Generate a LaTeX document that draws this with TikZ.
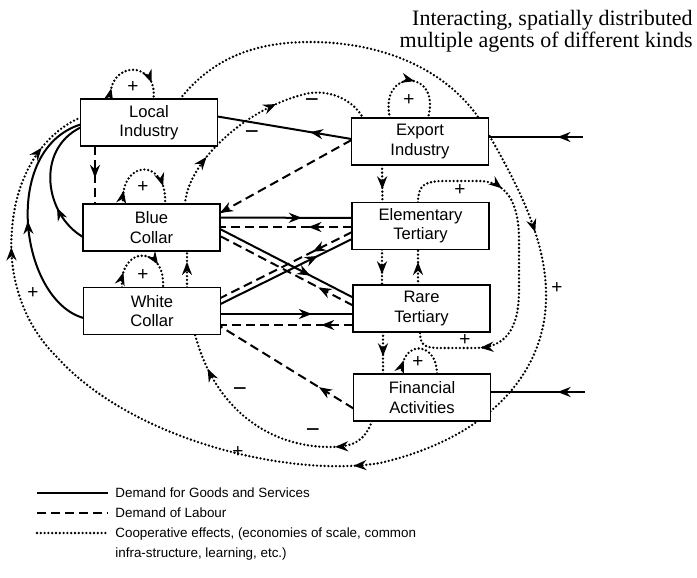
\documentclass[tikz,border=0pt]{standalone}
\usepackage{fontspec}
\setmainfont{Liberation Serif}
\setsansfont{Liberation Sans}
\usetikzlibrary{arrows.meta,calc,decorations.markings,backgrounds}

\tikzset{
    agent/.style={draw, line width=0.9pt, fill=white, minimum width=68.5pt, minimum height=23.5pt,
        inner sep=0pt, outer sep=0pt, align=center, font=\sffamily\fontsize{8.3}{9.6}\selectfont},
    goods/.style={line width=1pt},
    labour/.style={line width=1pt, dash pattern=on 4.5pt off 2.5pt},
    coop/.style={line width=1.3pt, line cap=round, dash pattern=on 0pt off 1.9pt},
    tipat/.style={postaction={solid, decorate, decoration={markings,
        mark=at position #1 with {\arrow{Stealth[length=6.5pt,width=5pt]}}}}},
    sign/.style={inner sep=0pt, font=\sffamily\fontsize{9.5}{9.5}\selectfont},
    minus/.style={inner sep=0pt, font=\sffamily\fontsize{12}{12}\selectfont},
    legend/.style={anchor=base west, inner sep=0pt, align=left, font=\sffamily\fontsize{6.7}{10}\selectfont}
}

\begin{document}
\begin{tikzpicture}[x=0.5pt,y=-0.5pt]
            \useasboundingbox (0,0) rectangle (697,578);

            \node[agent] (li) at (149,122.5) {Local\\Industry};
            \node[agent] (ei) at (420,141.5) {Export\\Industry};
            \node[agent] (bc) at (151.5,227.5) {Blue\\Collar};
            \node[agent] (wc) at (152,311) {White\\Collar};
            \node[agent] (et) at (420.5,226) {Elementary\\Tertiary};
            \node[agent] (rt) at (421.5,308.5) {Rare\\Tertiary};
            \node[agent] (fa) at (422,397.5) {Financial\\Activities};

            \node[anchor=base east, align=right, inner sep=0pt, font=\fontsize{11}{11}\selectfont] (title) at (693,47)
                {Interacting, spatially distributed\\multiple agents of different kinds};

            \coordinate (ein) at (583,137);
            \coordinate (fin) at (585,392);

            \begin{scope}[on background layer]
            % demand for goods and services
            \path[draw,goods,tipat=0.31] ($(ei.west)+(0,-2.5)$) -- ($(li.east)+(0,-6)$);
            \path[draw,goods,tipat=0.27] (ein) -- ($(ei.east)+(0,-4.5)$);
            \path[draw,goods,tipat=0.29] (fin) -- ($(fa.east)+(0,-5.5)$);
            \path[draw,goods,tipat=0.62] ($(bc.east)+(0,-10)$) -- ($(et.west)+(0,-8)$);
            \path[draw,goods,tipat=0.68] ($(bc.east)+(0,1.5)$) -- ($(rt.west)+(0,-11)$);
            \path[draw,goods,tipat=0.74] ($(wc.east)+(0,-7)$) -- ($(et.west)+(0,13)$);
            \path[draw,goods,tipat=0.69] ($(wc.east)+(0,3)$) -- ($(rt.west)+(0,5.5)$);
            \path[draw,goods,tipat=0.3] ($(bc.west)+(0,9.5)$) .. controls (45,215) and (35,150) .. ($(li.west)+(0,5)$);
            \path[draw,goods,tipat=0.5] ($(wc.west)+(0,7)$) .. controls (20,300) and (0,150) .. ($(li.west)+(0,2)$);

            % demand of labour
            \path[draw,labour,tipat=0.33] ($(et.west)+(0,1)$) -- ($(bc.east)+(0,-0.5)$);
            \path[draw,labour,tipat=0.26] ($(rt.west)+(0,-3)$) -- ($(bc.east)+(0,8.5)$);
            \path[draw,labour,tipat=0.3] ($(et.west)+(0,6)$) -- ($(wc.east)+(0,-13)$);
            \path[draw,labour,tipat=0.24] ($(rt.west)+(0,16.5)$) -- ($(wc.east)+(0,14)$);
            \path[draw,labour,tipat=1] ($(ei.west)+(0,-1.5)$) -- ($(bc.east)+(0,-14.5)$);
            \path[draw,labour,tipat=0.26] ($(fa.west)+(0,11)$) -- ($(wc.south east)+(0,-8)$);
            \path[draw,labour,tipat=0.55] ($(li.south west)+(14.5,0)$) -- ($(bc.north west)+(12,0)$);

            % cooperative effects
            \path[draw,coop,tipat=0.13,tipat=0.8] ($(li.north west)+(30,0)$) .. controls (108,60) and (158,60) .. ($(li.north west)+(73,0)$);
            \path[draw,coop,tipat=0.15,tipat=0.8] ($(bc.north west)+(40,0)$) .. controls (120,158) and (168,158) .. ($(bc.north west)+(82,0)$);
            \path[draw,coop,tipat=0.18,tipat=0.72] ($(wc.north west)+(38.5,0)$) .. controls (119,245) and (166,245) .. ($(wc.north west)+(79.5,0)$);
            \path[draw,coop,tipat=0.55] ($(ei.north west)+(38.5,0)$) .. controls (378,68) and (442,68) .. ($(ei.north west)+(76.5,0)$);
            \path[draw,coop,tipat=0.2] ($(fa.north west)+(48.5,0)$) .. controls (400,340) and (437,340) .. ($(fa.north west)+(83.5,0)$);
            \path[draw,coop,tipat=0.7] ($(wc.north west)+(103.5,0)$) -- ($(bc.south west)+(104,0)$);
            \path[draw,coop,tipat=0.65] ($(ei.south west)+(30.5,0)$) -- ($(et.north west)+(30.5,0)$);
            \path[draw,coop,tipat=0.7] ($(et.south west)+(30,0)$) -- ($(rt.north west)+(29,0)$);
            \path[draw,coop,tipat=0.65] ($(rt.north west)+(65,0)$) -- ($(et.south west)+(66,0)$);
            \path[draw,coop,tipat=0.58] ($(rt.south west)+(30,0)$) -- ($(fa.north west)+(29.5,0)$);
            \path[draw,coop,tipat=0.28,tipat=0.8] ($(et.north west)+(66,0)$) .. controls (418,185) and (425,181) .. (445,181) -- (480,181)
                .. controls (505,182) and (519,200) .. (519,240) -- (519,290) .. controls (519,330) and (505,348) .. (475,348)
                -- (440,348) .. controls (424,348) and (420,345) .. ($(rt.south west)+(67,0)$);
            \path[draw,coop,tipat=0.22,tipat=0.59] ($(bc.north west)+(102,0)$) .. controls (188,160) and (250,105) .. (310,93)
                .. controls (335,90) and (355,103) .. ($(ei.north west)+(11.5,0)$);
            \path[draw,coop,tipat=0.2,tipat=0.85] ($(fa.south west)+(18.5,0)$) .. controls (365,440) and (355,447) .. (330,447)
                .. controls (270,447) and (215,410) .. ($(wc.south west)+(111.5,0)$);
            \path[draw,coop,tipat=0.33,tipat=0.575,tipat=0.89,tipat=0.965] ($(li.north west)+(99.5,0)$)
                .. controls (215,55) and (260,42) .. (310,42)
                .. controls (390,42) and (455,75) .. (485,128)
                .. controls (515,180) and (548,240) .. (546,300)
                .. controls (544,380) and (480,440) .. (380,463)
                .. controls (290,478) and (130,440) .. (55,355)
                .. controls (20,320) and (8,270) .. (12,230)
                .. controls (15,180) and (40,135) .. ($(li.west)+(0,-5)$);
            \end{scope}

            \node[sign] (s1) at (133,87) {+};
            \node[sign] (s2) at (143,187) {+};
            \node[sign] (s3) at (143,275) {+};
            \node[sign] (s4) at (409,100) {+};
            \node[sign] (s5) at (418,362) {+};
            \node[sign] (s6) at (460,190) {+};
            \node[sign] (s7) at (465,340) {+};
            \node[sign] (s8) at (557,288) {+};
            \node[sign] (s9) at (238,452) {+};
            \node[sign] (s10) at (33,293) {+};
            \node[minus] (m1) at (312,103) {−};
            \node[minus] (m2) at (252,135) {−};
            \node[minus] (m3) at (240,392) {−};
            \node[minus] (m4) at (313,433) {−};

            \node[legend] (lg1) at (115,497) {Demand for Goods and Services};
            \node[legend] (lg2) at (115,517.5) {Demand of Labour};
            \node[legend] (lg3) at (115,557) {Cooperative effects, (economies of scale, common\\infra-structure, learning, etc.)};
            \coordinate (k1) at (37,493);
            \coordinate (k2) at (37,513);
            \coordinate (k3) at (37,533);
            \path[draw,goods] (k1) -- ($(lg1.base west)+(-7,-4)$);
            \path[draw,labour] (k2) -- ($(lg2.base west)+(-7,-4.5)$);
            \path[draw,coop] (k3) -- ($(lg3.base west)+(-7,-24)$);
\end{tikzpicture}
\end{document}
